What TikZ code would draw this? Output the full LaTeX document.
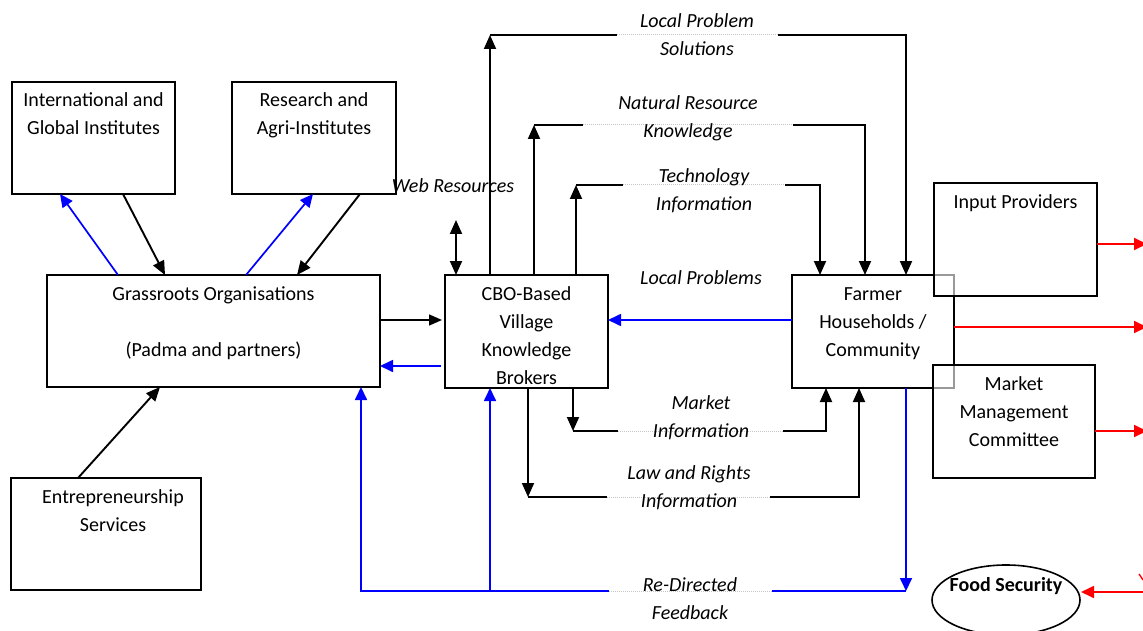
\documentclass[tikz,border=0pt]{standalone}
\usepackage{fontspec}
\setmainfont{Carlito}
\usetikzlibrary{arrows.meta,shapes.geometric}
\begin{document}
\begin{tikzpicture}[x=1pt,y=-1pt,
  box/.style={draw=black, line width=1.6pt, inner sep=0pt, outer sep=0pt},
  txt/.style={font=\fontsize{20}{28}\selectfont, align=center, inner sep=0pt, anchor=north},
  lbl/.style={font=\fontsize{20}{28}\selectfont\itshape, align=center, inner sep=0pt},
  arr/.style={line width=1.9pt, -{Triangle[length=14pt,width=12pt]}},
  dbl/.style={line width=1.9pt, {Triangle[length=14pt,width=12pt]}-{Triangle[length=14pt,width=12pt]}},
  barr/.style={draw=blue, line width=1.7pt, -{Triangle[length=13pt,width=12pt]}},
  rarr/.style={draw=red, line width=1.7pt, -{Triangle[length=13pt,width=12pt]}},
  gapd/.style={draw=gray!45, densely dotted, line width=1pt, preaction={draw=white, solid, line width=3.5pt}},
  cover/.style={fill=white, fill opacity=0.6}
]
\useasboundingbox (0,0) rectangle (1143,631);
\clip (0,0) rectangle (1143,631);

% ---------- boxes ----------
\node[box, minimum width=163pt, minimum height=112pt] (intl) at (93.5,138) {};
\node[box, minimum width=164pt, minimum height=112pt] (res) at (314,138) {};
\node[box, minimum width=333pt, minimum height=112pt] (grass) at (213.5,331) {};
\node[box, minimum width=190pt, minimum height=112pt] (ent) at (106,534) {};
\node[box, minimum width=163pt, minimum height=113pt] (cbo) at (526.5,331.5) {};
\node[box, minimum width=162pt, minimum height=113pt] (farm) at (873,331.5) {};
\node[box, minimum width=163pt, minimum height=113pt, cover] (inp) at (1015.5,239.5) {};
\node[box, minimum width=162pt, minimum height=113pt, cover] (mkt) at (1014,421.5) {};
\node[draw=black, line width=1.6pt, ellipse, minimum width=148pt, minimum height=70pt, inner sep=0pt] (food) at (1006,600) {};

% ---------- box texts ----------
\node[txt] (intlT) at ([yshift=-10.5pt]intl.north) {International and\\Global Institutes};
\node[txt] (resT) at ([yshift=-10.5pt]res.north) {Research and\\Agri-Institutes};
\node[txt] (grassT) at ([yshift=-11pt]grass.north) {Grassroots Organisations\\\mbox{}\\(Padma and partners)};
\node[txt] (entT) at ([xshift=7pt,yshift=-11pt]ent.north) {Entrepreneurship\\Services};
\node[txt] (cboT) at ([yshift=-11pt]cbo.north) {CBO-Based\\Village\\Knowledge\\Brokers};
\node[txt] (farmT) at ([yshift=-12pt]farm.north) {Farmer\\Households /\\Community};
\node[txt] (inpT) at ([yshift=-11pt]inp.north) {Input Providers};
\node[txt] (mktT) at ([yshift=-11pt]mkt.north) {Market\\Management\\Committee};
\node[font=\fontsize{20}{24}\selectfont\bfseries, inner sep=0pt] (foodT) at (1006,586) {Food Security};

% ---------- left side connectors ----------
\draw[barr] ([xshift=71pt]grass.north west) -- ([xshift=48pt]intl.south west);
\draw[arr] ([xshift=111pt]intl.south west) -- ([xshift=118pt]grass.north west);
\draw[barr] ([xshift=199pt]grass.north west) -- ([xshift=81pt]res.south west);
\draw[arr] ([xshift=128pt]res.south west) -- ([xshift=250pt]grass.north west);
\draw[arr] ([xshift=67pt]ent.north west) -- ([xshift=113pt]grass.south west);

\coordinate (gc1) at (0,320);
\coordinate (gc2) at (0,366);
\draw[line width=1.4pt, -{Triangle[length=13pt,width=11pt]}] (gc1 -| grass.east) -- ([xshift=-3pt]gc1 -| cbo.west);
\draw[barr] ([xshift=-4pt]gc2 -| cbo.west) -- (gc2 -| grass.east);

% web resources
\coordinate (web) at (456,220);
\draw[dbl] (web) -- (web |- cbo.north);
\node[lbl] (webL) at (453,186) {Web Resources};

% ---------- top loops CBO -> Farmer ----------
\coordinate (lpsA) at (490,35);
\coordinate (lpsB) at (906,35);
\draw[arr] (lpsA |- cbo.north) -- (lpsA);
\draw[arr] (lpsA) -- (lpsB) -- (lpsB |- farm.north);
\coordinate (lpsG1) at (617,35);
\coordinate (lpsG2) at (778,35);
\draw[gapd] (lpsG1) -- (lpsG2);
\node[lbl] (lpsL) at (697,35) {Local Problem\\Solutions};

\coordinate (nrA) at (534,125);
\coordinate (nrB) at (865,125);
\draw[arr] (nrA |- cbo.north) -- (nrA);
\draw[arr] (nrA) -- (nrB) -- (nrB |- farm.north);
\coordinate (nrG1) at (583,125);
\coordinate (nrG2) at (793,125);
\draw[gapd] (nrG1) -- (nrG2);
\node[lbl] (nrL) at (688,118) {Natural Resource\\Knowledge};

\coordinate (tiA) at (576,185);
\coordinate (tiB) at (820,185);
\draw[arr] (tiA |- cbo.north) -- (tiA);
\draw[arr] (tiA) -- (tiB) -- (tiB |- farm.north);
\coordinate (tiG1) at (623,185);
\coordinate (tiG2) at (785,185);
\draw[gapd] (tiG1) -- (tiG2);
\node[lbl] (tiL) at (704,191) {Technology\\Information};

% local problems (farmer -> CBO)
\coordinate (lp) at (0,320);
\draw[barr] (lp -| farm.west) -- (lp -| cbo.east);
\node[lbl] (lpL) at (701,278) {Local Problems};

% ---------- bottom loops CBO -> Farmer ----------
\coordinate (miA) at (573,431);
\coordinate (miB) at (826,431);
\draw[arr] (miA |- cbo.south) -- (miA);
\draw[arr] (miA) -- (miB) -- (miB |- farm.south);
\coordinate (miG1) at (618,431);
\coordinate (miG2) at (783,431);
\draw[gapd] (miG1) -- (miG2);
\node[lbl] (miL) at (701,418) {Market\\Information};

\coordinate (lrA) at (528,497);
\coordinate (lrB) at (859,497);
\draw[arr] (lrA |- cbo.south) -- (lrA);
\draw[arr] (lrA) -- (lrB) -- (lrB |- farm.south);
\coordinate (lrG1) at (607,497);
\coordinate (lrG2) at (770,497);
\draw[gapd] (lrG1) -- (lrG2);
\node[lbl] (lrL) at (689,488) {Law and Rights\\Information};

% ---------- re-directed feedback ----------
\coordinate (fb) at (906,591);
\coordinate (fbL) at (361,591);
\coordinate (fbM) at (490,591);
\draw[barr] (fb |- farm.south) -- (fb);
\draw[barr] (fb) -- (fbL) -- (fbL |- grass.south);
\draw[barr] (fbM) -- (fbM |- cbo.south);
\coordinate (fbG1) at (609,591);
\coordinate (fbG2) at (772,591);
\draw[gapd] (fbG1) -- (fbG2);
\node[lbl] (fbLb) at (690,599) {Re-Directed\\Feedback};

% ---------- red outputs ----------
\coordinate (r1) at (1147,244);
\coordinate (r2) at (1147,327);
\coordinate (r3) at (1147,431);
\coordinate (r4) at (1147,592);
\coordinate (r4t) at (1081,592);
\coordinate (r5a) at (1139,574);
\coordinate (r5b) at (1143,580);
\draw[rarr] (r1 -| inp.east) -- (r1);
\draw[rarr] (r2 -| farm.east) -- (r2);
\draw[rarr] (r3 -| mkt.east) -- (r3);
\draw[rarr] (r4) -- (r4t);
\draw[draw=red, line width=1.4pt] (r5a) -- (r5b);
\end{tikzpicture}
\end{document}
